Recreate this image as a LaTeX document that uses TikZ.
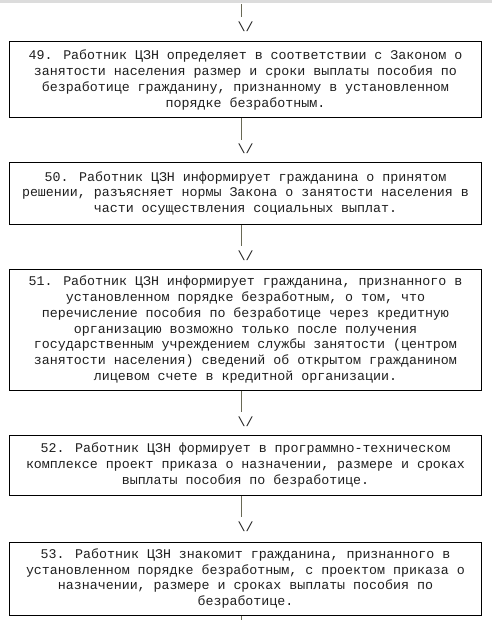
\documentclass[tikz,border=0pt]{standalone}
\usepackage{fontspec}
\newfontfamily\monofont{Liberation Mono}
\definecolor{conncol}{RGB}{105,105,85}
\definecolor{topband}{RGB}{220,220,220}
\definecolor{txtcol}{RGB}{30,30,30}
\tikzset{
  stepbox/.style={draw=black, line width=1pt, minimum width=472pt, inner sep=0pt,
    align=center, text=txtcol, font=\monofont\fontsize{13.3}{15.7}\selectfont},
  conn/.style={draw=conncol, line width=1.1pt},
  vmark/.style={anchor=base, inner sep=0pt, text=txtcol, font=\monofont\fontsize{13.3}{15.7}\selectfont}
}
\begin{document}
\begin{tikzpicture}[x=1pt,y=-1pt]
\useasboundingbox (0,0) rectangle (492,620);
\fill[topband] (0,0) rectangle (492,3);

% top connector
\coordinate (t0) at (241.7,4);
\coordinate (t1) at (241.7,17);
\draw[conn] (t0) -- (t1);
\node[vmark] (v0) at (245.7,32) {\textbackslash/};

\node[stepbox, minimum height=76pt] (b49) at (245.5,80) {49. Работник ЦЗН определяет в соответствии с Законом о\\
занятости населения размер и сроки выплаты пособия по\\
безработице гражданину, признанному в установленном\\
порядке безработным.};

\coordinate (e1) at (241.7,140);
\draw[conn] (b49.south -| e1) -- (e1);
\node[vmark] (v1) at (245.7,154) {\textbackslash/};

\node[stepbox, minimum height=61pt] (b50) at (245.5,193.5) {50. Работник ЦЗН информирует гражданина о принятом\\
решении, разъясняет нормы Закона о занятости населения в\\
части осуществления социальных выплат.};

\coordinate (e2) at (241.7,246);
\draw[conn] (b50.south -| e2) -- (e2);
\node[vmark] (v2) at (245.7,260) {\textbackslash/};

\node[stepbox, minimum height=121pt] (b51) at (245.5,329.5) {51. Работник ЦЗН информирует гражданина, признанного в\\
установленном порядке безработным, о том, что\\
перечисление пособия по безработице через кредитную\\
организацию возможно только после получения\\
государственным учреждением службы занятости (центром\\
занятости населения) сведений об открытом гражданином\\
лицевом счете в кредитной организации.};

\coordinate (e3) at (241.7,412);
\draw[conn] (b51.south -| e3) -- (e3);
\node[vmark] (v3) at (245.7,426) {\textbackslash/};

\node[stepbox, minimum height=60pt] (b52) at (245.5,465) {52. Работник ЦЗН формирует в программно-техническом\\
комплексе проект приказа о назначении, размере и сроках\\
выплаты пособия по безработице.};

\coordinate (e4) at (241.7,517);
\draw[conn] (b52.south -| e4) -- (e4);
\node[vmark] (v4) at (245.7,531) {\textbackslash/};

\node[stepbox, minimum height=73pt] (b53) at (245.5,578.5) {53. Работник ЦЗН знакомит гражданина, признанного в\\
установленном порядке безработным, с проектом приказа о\\
назначении, размере и сроках выплаты пособия по\\
безработице.};

\coordinate (e5) at (241.7,620);
\draw[conn] (b53.south -| e5) -- (e5);
\end{tikzpicture}
\end{document}
